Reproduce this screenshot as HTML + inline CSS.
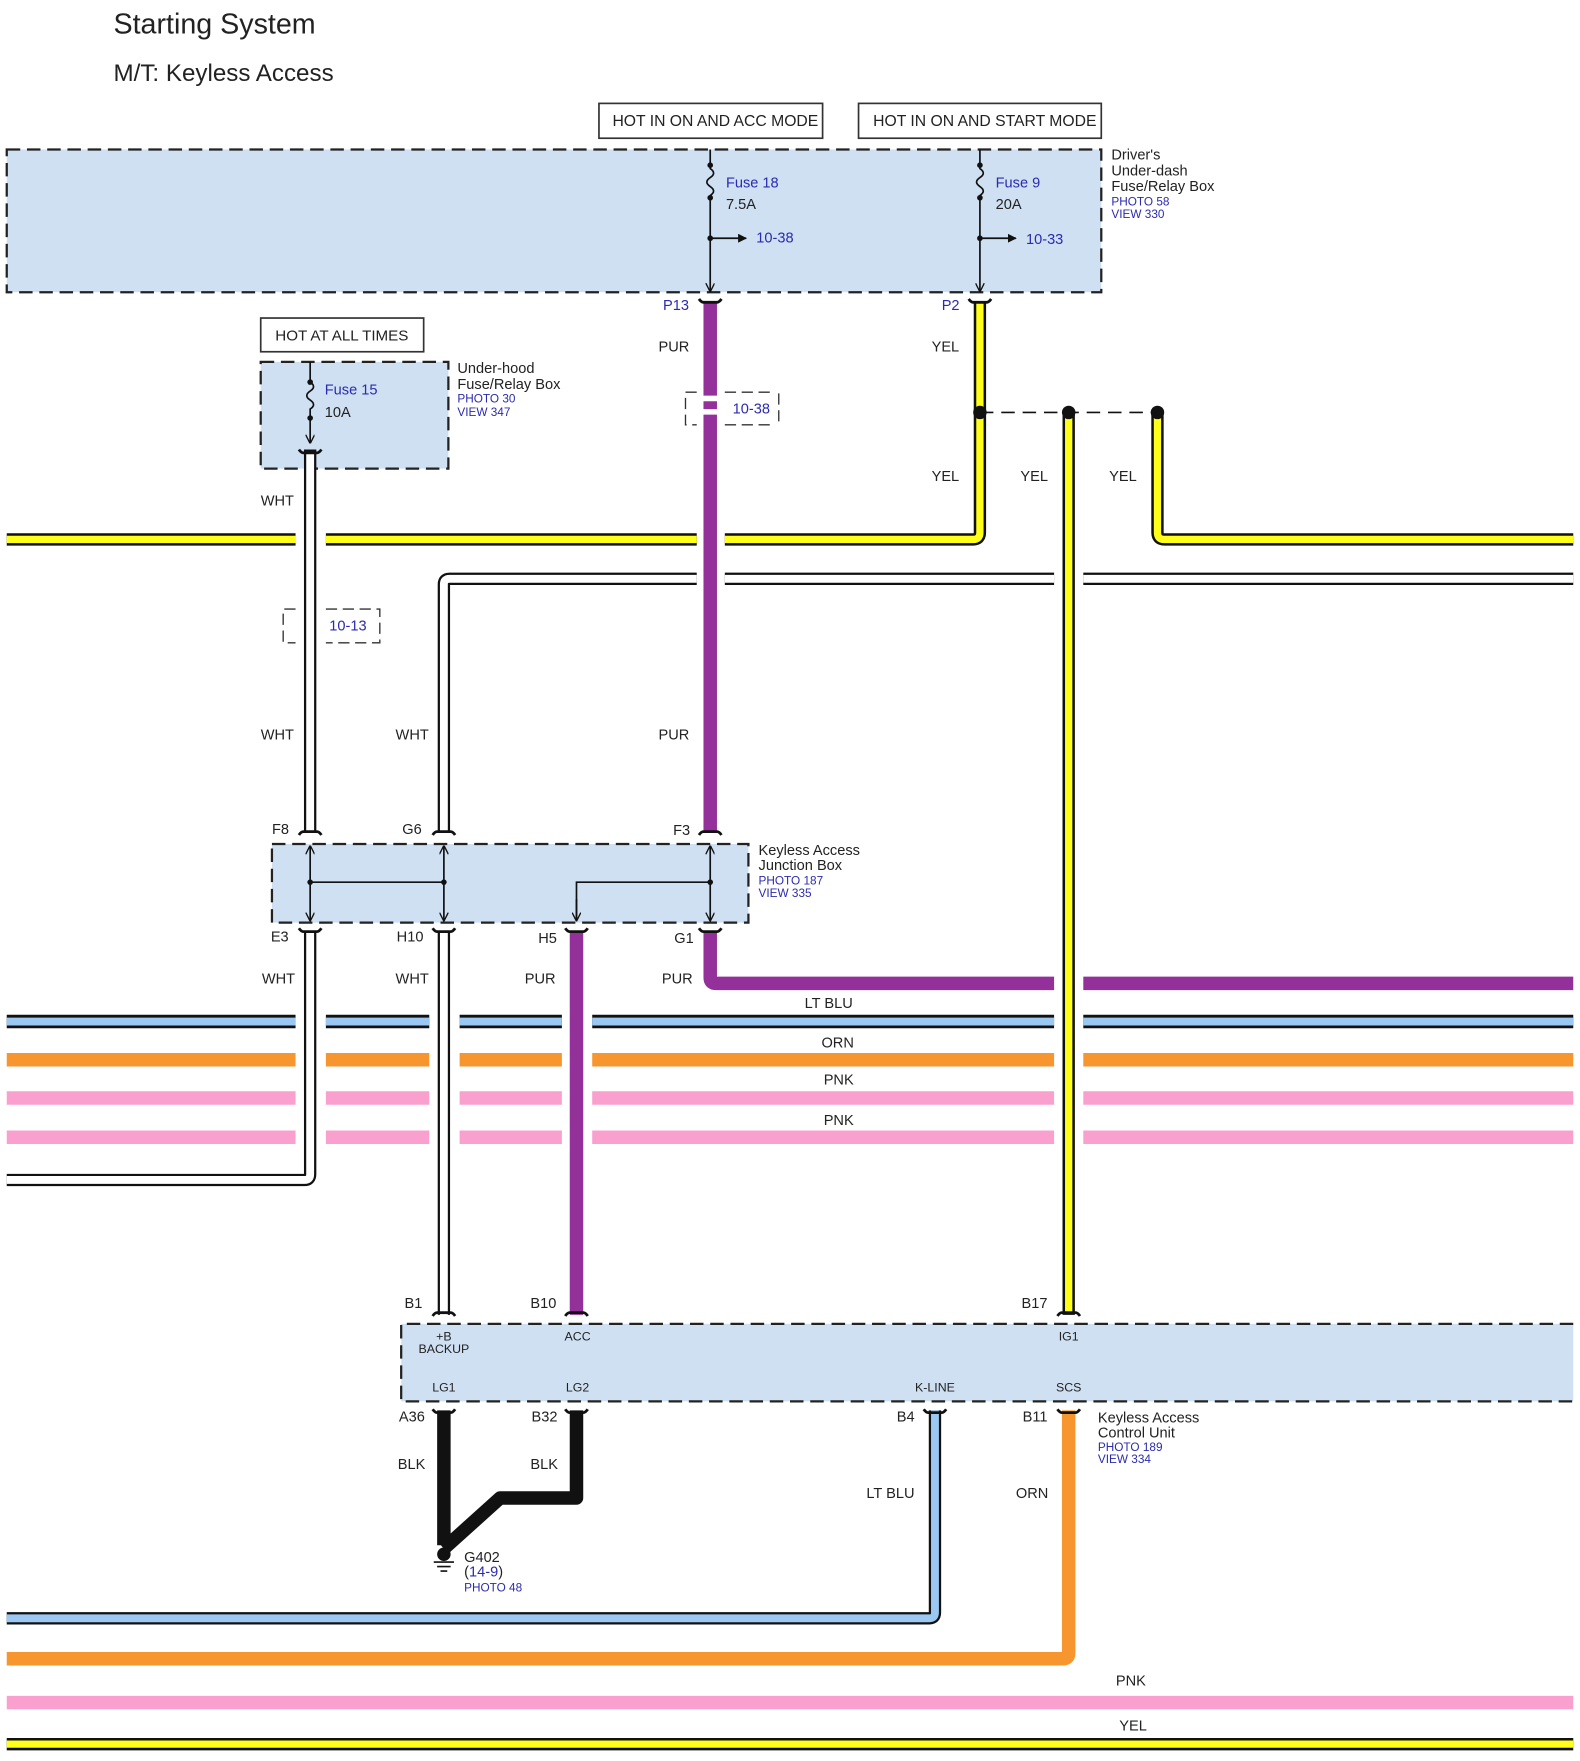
<!DOCTYPE html>
<html><head><meta charset="utf-8"><style>
html,body{margin:0;padding:0;background:#fff}
svg{display:block}
text{font-family:"Liberation Sans",Arial,sans-serif;fill:#222}
.b{fill:#2b2bb0}
.l{font-size:13px}
.s{font-size:10.5px}
</style></head><body>
<svg width="1580" height="1761" viewBox="0 0 1406 1567" preserveAspectRatio="none" xmlns="http://www.w3.org/2000/svg">
<defs>
<marker id="ar" viewBox="0 0 10 10" refX="9" refY="5" markerWidth="8" markerHeight="8" orient="auto-start-reverse" markerUnits="userSpaceOnUse"><path d="M0,0 L10,5 L0,10" fill="none" stroke="#111" stroke-width="1.5"/></marker>
<marker id="af" viewBox="0 0 10 10" refX="9" refY="5" markerWidth="8" markerHeight="8" orient="auto" markerUnits="userSpaceOnUse"><path d="M0,0 L10,5 L0,10z" fill="#111"/></marker>
</defs>
<text x="101" y="30" style="font-size:25.5px">Starting System</text>
<text x="101" y="72" style="font-size:21.5px">M/T: Keyless Access</text>

<rect x="533" y="92" width="199" height="31" fill="#fff" stroke="#333" stroke-width="1.5"/>
<text x="545" y="112" style="font-size:14px">HOT IN ON AND ACC MODE</text>
<rect x="764" y="92" width="216" height="31" fill="#fff" stroke="#333" stroke-width="1.5"/>
<text x="777" y="112" style="font-size:14px">HOT IN ON AND START MODE</text>

<rect x="6" y="133" width="974" height="127" fill="#cfe0f3" stroke="#222" stroke-width="2" stroke-dasharray="12,6"/>
<text x="989" y="142" class="l">Driver's</text>
<text x="989" y="156" class="l">Under-dash</text>
<text x="989" y="170" class="l">Fuse/Relay Box</text>
<text x="989" y="183" class="s b">PHOTO 58</text>
<text x="989" y="194" class="s b">VIEW 330</text>

<g stroke="#111" stroke-width="1.5" fill="none">
<path d="M632,133 V150 q6,4 0,8 q-6,4 0,8 q6,4 0,8 V259" marker-end="url(#ar)"/>
<path d="M632,212 H664" marker-end="url(#af)"/>
<path d="M872,133 V150 q6,4 0,8 q-6,4 0,8 q6,4 0,8 V259" marker-end="url(#ar)"/>
<path d="M872,212 H904" marker-end="url(#af)"/>
</g>
<g fill="#111"><circle cx="632" cy="147" r="2.5"/><circle cx="632" cy="176" r="2.5"/><circle cx="632" cy="212" r="2.5"/>
<circle cx="872" cy="147" r="2.5"/><circle cx="872" cy="176" r="2.5"/><circle cx="872" cy="212" r="2.5"/></g>
<text x="646" y="167" class="l b">Fuse 18</text><text x="646" y="186" class="l">7.5A</text>
<text x="673" y="216" class="l b">10-38</text>
<text x="886" y="167" class="l b">Fuse 9</text><text x="886" y="186" class="l">20A</text>
<text x="913" y="217" class="l b">10-33</text>

<rect x="232" y="283" width="145" height="30" fill="#fff" stroke="#333" stroke-width="1.5"/>
<text x="245" y="303" style="font-size:13.5px">HOT AT ALL TIMES</text>
<rect x="232" y="322" width="167" height="95" fill="#cfe0f3" stroke="#222" stroke-width="2" stroke-dasharray="12,6"/>
<g stroke="#111" stroke-width="1.5" fill="none"><path d="M276,322 V340 q6,4 0,8 q-6,4 0,8 q6,4 0,8 V394" marker-end="url(#ar)"/></g>
<circle cx="276" cy="340" r="2.5" fill="#111"/><circle cx="276" cy="372" r="2.5" fill="#111"/>
<text x="289" y="351" class="l b">Fuse 15</text><text x="289" y="371" class="l">10A</text>
<text x="407" y="332" class="l">Under-hood</text>
<text x="407" y="346" class="l">Fuse/Relay Box</text>
<text x="407" y="358" class="s b">PHOTO 30</text>
<text x="407" y="370" class="s b">VIEW 347</text>

<g fill="none" stroke-linejoin="round">
<path d="M6,480 H263 M290,480 H620 M645,480 H866 Q872,480 872,474 V268" stroke="#111" stroke-width="11"/>
<path d="M6,480 H263 M290,480 H620 M645,480 H866 Q872,480 872,474 V270" stroke="#ffff1a" stroke-width="6.5"/>
<path d="M1400,480 H1036 Q1030,480 1030,474 V367" stroke="#111" stroke-width="11"/>
<path d="M1400,480 H1036 Q1030,480 1030,474 V370" stroke="#ffff1a" stroke-width="6.5"/>
<path d="M395,740 V520 Q395,515 400,515 H620 M645,515 H938 M964,515 H1400" stroke="#111" stroke-width="11"/>
<path d="M395,740 V520 Q395,515 400,515 H620 M645,515 H938 M964,515 H1400" stroke="#fff" stroke-width="7"/>
<path d="M6,909 H263 M290,909 H382 M409,909 H500 M527,909 H938 M964,909 H1400" stroke="#111" stroke-width="12"/>
<path d="M6,909 H263 M290,909 H382 M409,909 H500 M527,909 H938 M964,909 H1400" stroke="#9ac8f2" stroke-width="7"/>
<path d="M6,943 H263 M290,943 H382 M409,943 H500 M527,943 H938 M964,943 H1400" stroke="#f7962f" stroke-width="12"/>
<path d="M6,977 H263 M290,977 H382 M409,977 H500 M527,977 H938 M964,977 H1400" stroke="#f9a0cf" stroke-width="12"/>
<path d="M6,1012 H263 M290,1012 H382 M409,1012 H500 M527,1012 H938 M964,1012 H1400" stroke="#f9a0cf" stroke-width="12"/>

<path d="M951,367 V1170" stroke="#111" stroke-width="11"/>
<path d="M951,372 V1168" stroke="#ffff1a" stroke-width="6.5"/>
<path d="M632,268 V352 M632,357 V364 M632,369 V740" stroke="#93309a" stroke-width="12"/>
<path d="M632,828 V870 Q632,875 637,875 H938 M964,875 H1400" stroke="#93309a" stroke-width="12"/>
<path d="M513,828 V1170" stroke="#93309a" stroke-width="12"/>
<path d="M276,400 V740" stroke="#111" stroke-width="11"/>
<path d="M276,402 V740" stroke="#fff" stroke-width="7"/>
<path d="M276,828 V1045 Q276,1050 271,1050 H6" stroke="#111" stroke-width="11"/>
<path d="M276,828 V1045 Q276,1050 271,1050 H6" stroke="#fff" stroke-width="7"/>
<path d="M395,828 V1170" stroke="#111" stroke-width="11"/>
<path d="M395,828 V1170" stroke="#fff" stroke-width="7"/>
<path d="M395,1255 V1375 M513,1255 V1333 H445 L395,1378" stroke="#111" stroke-width="12"/>
<path d="M832,1255 V1435 Q832,1440 827,1440 H6" stroke="#111" stroke-width="11"/>
<path d="M832,1255 V1435 Q832,1440 827,1440 H6" stroke="#9ac8f2" stroke-width="7"/>
<path d="M951,1255 V1471 Q951,1476 946,1476 H6" stroke="#f7962f" stroke-width="12"/>
<path d="M6,1515 H1400" stroke="#f9a0cf" stroke-width="12"/>
<path d="M6,1552 H1400" stroke="#111" stroke-width="11"/>
<path d="M6,1552 H1400" stroke="#ffff1a" stroke-width="6.5"/>
</g>

<path d="M620,349 H610 V378 H620 M645,349 H690 M645,378 H690 M693,350 V378" stroke="#333" stroke-width="1.2" fill="none" stroke-dasharray="10,5"/>
<text x="652" y="368" class="l b">10-38</text>
<path d="M263,542 H252 V572 H263 M290,542 H338 V572 H290" stroke="#333" stroke-width="1.2" fill="none" stroke-dasharray="10,5"/>
<text x="293" y="561" class="l b">10-13</text>

<path d="M872,367 H1030" stroke="#111" stroke-width="1.5" stroke-dasharray="12,7"/>
<circle cx="872" cy="367" r="6" fill="#111"/><circle cx="951" cy="367" r="6" fill="#111"/><circle cx="1030" cy="367" r="6" fill="#111"/>

<rect x="242" y="751" width="424" height="70" fill="#cfe0f3" stroke="#222" stroke-width="2" stroke-dasharray="12,6"/>
<g stroke="#111" stroke-width="1.5" fill="none">
<path d="M276,785 V753" marker-end="url(#ar)"/><path d="M276,785 V819" marker-end="url(#ar)"/>
<path d="M395,785 V753" marker-end="url(#ar)"/><path d="M395,785 V819" marker-end="url(#ar)"/>
<path d="M632,785 V753" marker-end="url(#ar)"/><path d="M632,785 V819" marker-end="url(#ar)"/>
<path d="M276,785 H395 M632,785 H513 V819" />
<path d="M513,800 V819" marker-end="url(#ar)"/>
</g>
<circle cx="276" cy="785" r="2.5" fill="#111"/><circle cx="395" cy="785" r="2.5" fill="#111"/><circle cx="632" cy="785" r="2.5" fill="#111"/>
<text x="675" y="761" class="l">Keyless Access</text>
<text x="675" y="774" class="l">Junction Box</text>
<text x="675" y="787" class="s b">PHOTO 187</text>
<text x="675" y="798" class="s b">VIEW 335</text>

<rect x="357" y="1178" width="1043" height="69" fill="#cfe0f3"/>
<path d="M1400,1178 H357 V1247 H1400" fill="none" stroke="#222" stroke-width="2" stroke-dasharray="12,6"/>
<g style="font-size:11px" text-anchor="middle">
<text x="395" y="1193">+B</text><text x="395" y="1204">BACKUP</text>
<text x="514" y="1193">ACC</text><text x="951" y="1193">IG1</text>
<text x="395" y="1238">LG1</text><text x="514" y="1238">LG2</text>
<text x="832" y="1238">K-LINE</text><text x="951" y="1238">SCS</text>
</g>
<text x="977" y="1266" class="l">Keyless Access</text>
<text x="977" y="1279" class="l">Control Unit</text>
<text x="977" y="1291" class="s b">PHOTO 189</text>
<text x="977" y="1302" class="s b">VIEW 334</text>

<g stroke="#111" stroke-width="2.5" fill="none">
<path d="M622,266 q2,3 4,3 h12 q2,0 4,-3"/><path d="M862,266 q2,3 4,3 h12 q2,0 4,-3"/>
<path d="M266,400 q2,3 4,3 h12 q2,0 4,-3"/>
<path d="M266,743 q2,-3 4,-3 h12 q2,0 4,3"/><path d="M385,743 q2,-3 4,-3 h12 q2,0 4,3"/><path d="M622,743 q2,-3 4,-3 h12 q2,0 4,3"/>
<path d="M266,826 q2,3 4,3 h12 q2,0 4,-3"/><path d="M385,826 q2,3 4,3 h12 q2,0 4,-3"/><path d="M503,826 q2,3 4,3 h12 q2,0 4,-3"/><path d="M622,826 q2,3 4,3 h12 q2,0 4,-3"/>
<path d="M385,1171 q2,-3 4,-3 h12 q2,0 4,3"/><path d="M503,1171 q2,-3 4,-3 h12 q2,0 4,3"/><path d="M941,1171 q2,-3 4,-3 h12 q2,0 4,3"/>
<path d="M385,1254 q2,3 4,3 h12 q2,0 4,-3"/><path d="M503,1254 q2,3 4,3 h12 q2,0 4,-3"/><path d="M822,1254 q2,3 4,3 h12 q2,0 4,-3"/><path d="M941,1254 q2,3 4,3 h12 q2,0 4,-3"/>
</g>

<circle cx="395" cy="1383" r="6" fill="#111"/>
<path d="M386,1390 H404 M389,1394 H401 M392,1398 H398" stroke="#111" stroke-width="1.5"/>
<text x="413" y="1390" class="l">G402</text>
<text x="413" y="1403" class="l">(<tspan style="fill:#2b2bb0">14-9</tspan>)</text>
<text x="413" y="1416" class="s b">PHOTO 48</text>

<g class="l">
<text x="590" y="276" style="fill:#2b2bb0">P13</text>
<text x="838" y="276" style="fill:#2b2bb0">P2</text>
<text x="586" y="313">PUR</text><text x="829" y="313">YEL</text>
<text x="829" y="428">YEL</text><text x="908" y="428">YEL</text><text x="987" y="428">YEL</text>
<text x="232" y="450">WHT</text>
<text x="232" y="658">WHT</text><text x="352" y="658">WHT</text><text x="586" y="658">PUR</text>
<text x="242" y="742">F8</text><text x="358" y="742">G6</text><text x="599" y="743">F3</text>
<text x="241" y="838">E3</text><text x="353" y="838">H10</text><text x="479" y="839">H5</text><text x="600" y="839">G1</text>
<text x="233" y="875">WHT</text><text x="352" y="875">WHT</text><text x="467" y="875">PUR</text><text x="589" y="875">PUR</text>
<text x="716" y="897">LT BLU</text><text x="731" y="932">ORN</text><text x="733" y="965">PNK</text><text x="733" y="1001">PNK</text>
<text x="360" y="1164">B1</text><text x="472" y="1164">B10</text><text x="909" y="1164">B17</text>
<text x="355" y="1265">A36</text><text x="473" y="1265">B32</text><text x="798" y="1265">B4</text><text x="910" y="1265">B11</text>
<text x="354" y="1307">BLK</text><text x="472" y="1307">BLK</text>
<text x="771" y="1333">LT BLU</text><text x="904" y="1333">ORN</text>
<text x="993" y="1500">PNK</text><text x="996" y="1540">YEL</text>
</g>
</svg>
</body></html>
